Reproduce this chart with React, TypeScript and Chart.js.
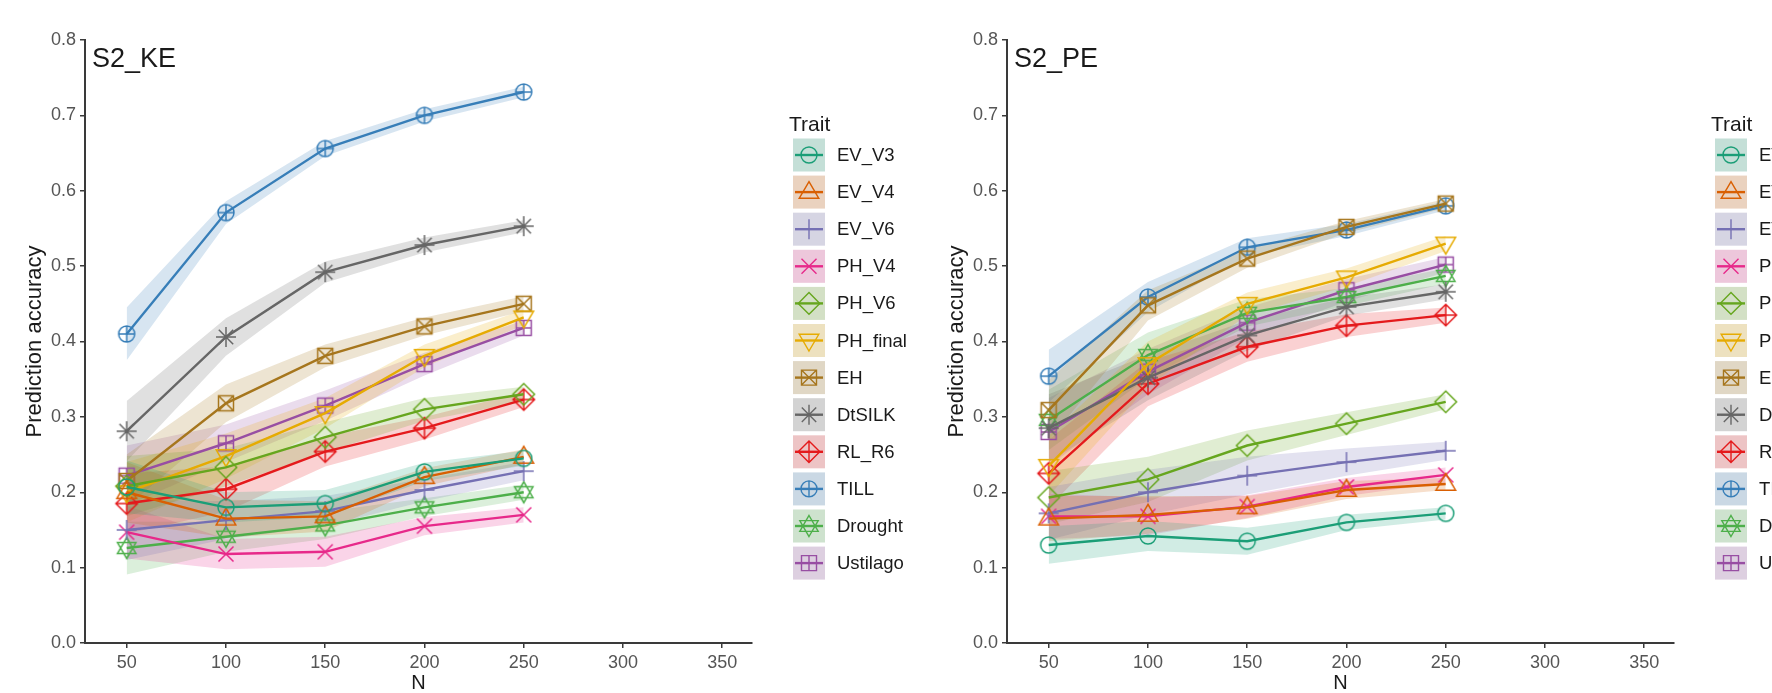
import React, { useEffect, useRef } from "react";
import { Chart, registerables } from "chart.js";

Chart.register(...registerables);

const FONT = '"Liberation Sans", Arial, Helvetica, sans-serif';
Chart.defaults.font.family = FONT;

// ---------- data ----------
const N_VALUES = [50, 100, 150, 200, 250];
const X_TICKS = [50, 100, 150, 200, 250, 300, 350];
const Y_TICKS = [0, 0.1, 0.2, 0.3, 0.4, 0.5, 0.6, 0.7, 0.8];
const TRAITS = ["EV_V3", "EV_V4", "EV_V6", "PH_V4", "PH_V6", "PH_final", "EH", "DtSILK", "RL_R6", "TILL", "Drought", "Ustilago"];
const COLORS = ["#1B9E77", "#D95F02", "#7570B3", "#E7298A", "#66A61E", "#E6AB02", "#A6761D", "#666666", "#E41A1C", "#377EB8", "#4DAF4A", "#984EA3"];
const SHAPES = ["circle", "triangle", "plus", "cross", "diamond", "triangleDown", "squareCross", "asterisk", "diamondPlus", "circlePlus", "starDavid", "squarePlus"];
const PANEL_TITLES = ["S2_KE", "S2_PE"];
const LEGEND_TITLE = "Trait";
const X_TITLE = "N";
const Y_TITLE = "Prediction accuracy";

// S2_KE mean accuracy
const KE_EV_V3 = [0.207, 0.180, 0.185, 0.227, 0.245];
const KE_EV_V4 = [0.200, 0.165, 0.168, 0.220, 0.247];
const KE_EV_V6 = [0.150, 0.163, 0.175, 0.203, 0.228];
const KE_PH_V4 = [0.147, 0.118, 0.121, 0.155, 0.170];
const KE_PH_V6 = [0.208, 0.233, 0.273, 0.310, 0.330];
const KE_PH_FINAL = [0.200, 0.248, 0.305, 0.381, 0.432];
const KE_EH = [0.215, 0.318, 0.381, 0.420, 0.450];
const KE_DTSILK = [0.281, 0.406, 0.492, 0.528, 0.553];
const KE_RL_R6 = [0.185, 0.204, 0.254, 0.285, 0.323];
const KE_TILL = [0.410, 0.571, 0.656, 0.700, 0.731];
const KE_DROUGHT = [0.126, 0.141, 0.156, 0.180, 0.200];
const KE_USTILAGO = [0.222, 0.265, 0.315, 0.370, 0.418];

// S2_KE ribbon half widths
const KE_HW_EV_V3 = [0.035, 0.02, 0.018, 0.012, 0.01];
const KE_HW_EV_V4 = [0.04, 0.025, 0.02, 0.012, 0.01];
const KE_HW_EV_V6 = [0.04, 0.025, 0.02, 0.015, 0.012];
const KE_HW_PH_V4 = [0.035, 0.02, 0.02, 0.012, 0.01];
const KE_HW_PH_V6 = [0.04, 0.025, 0.02, 0.015, 0.01];
const KE_HW_PH_FINAL = [0.04, 0.03, 0.02, 0.015, 0.01];
const KE_HW_EH = [0.035, 0.025, 0.015, 0.012, 0.01];
const KE_HW_DTSILK = [0.04, 0.025, 0.014, 0.01, 0.008];
const KE_HW_RL_R6 = [0.04, 0.03, 0.02, 0.015, 0.01];
const KE_HW_TILL = [0.035, 0.015, 0.01, 0.008, 0.007];
const KE_HW_DROUGHT = [0.035, 0.02, 0.018, 0.012, 0.01];
const KE_HW_USTILAGO = [0.04, 0.025, 0.02, 0.015, 0.01];

// S2_PE mean accuracy
const PE_EV_V3 = [0.130, 0.142, 0.135, 0.160, 0.172];
const PE_EV_V4 = [0.165, 0.170, 0.180, 0.203, 0.211];
const PE_EV_V6 = [0.172, 0.200, 0.222, 0.240, 0.255];
const PE_PH_V4 = [0.168, 0.168, 0.181, 0.207, 0.223];
const PE_PH_V6 = [0.193, 0.217, 0.262, 0.291, 0.320];
const PE_PH_FINAL = [0.235, 0.370, 0.450, 0.485, 0.530];
const PE_EH = [0.309, 0.448, 0.510, 0.552, 0.583];
const PE_DTSILK = [0.285, 0.352, 0.408, 0.446, 0.466];
const PE_RL_R6 = [0.225, 0.344, 0.393, 0.421, 0.435];
const PE_TILL = [0.354, 0.459, 0.525, 0.548, 0.580];
const PE_DROUGHT = [0.296, 0.382, 0.438, 0.459, 0.487];
const PE_USTILAGO = [0.280, 0.360, 0.425, 0.468, 0.502];

// S2_PE ribbon half widths
const PE_HW_EV_V3 = [0.025, 0.02, 0.018, 0.01, 0.008];
const PE_HW_EV_V4 = [0.03, 0.025, 0.015, 0.012, 0.008];
const PE_HW_EV_V6 = [0.035, 0.03, 0.025, 0.018, 0.012];
const PE_HW_PH_V4 = [0.03, 0.025, 0.015, 0.012, 0.01];
const PE_HW_PH_V6 = [0.035, 0.03, 0.02, 0.015, 0.01];
const PE_HW_PH_FINAL = [0.04, 0.03, 0.015, 0.012, 0.01];
const PE_HW_EH = [0.04, 0.02, 0.012, 0.008, 0.006];
const PE_HW_DTSILK = [0.045, 0.03, 0.02, 0.012, 0.01];
const PE_HW_RL_R6 = [0.045, 0.03, 0.02, 0.015, 0.01];
const PE_HW_TILL = [0.035, 0.02, 0.012, 0.008, 0.006];
const PE_HW_DROUGHT = [0.04, 0.03, 0.018, 0.012, 0.01];
const PE_HW_USTILAGO = [0.045, 0.03, 0.02, 0.015, 0.01];

const KE_MEANS = [KE_EV_V3, KE_EV_V4, KE_EV_V6, KE_PH_V4, KE_PH_V6, KE_PH_FINAL, KE_EH, KE_DTSILK, KE_RL_R6, KE_TILL, KE_DROUGHT, KE_USTILAGO];
const KE_HALF = [KE_HW_EV_V3, KE_HW_EV_V4, KE_HW_EV_V6, KE_HW_PH_V4, KE_HW_PH_V6, KE_HW_PH_FINAL, KE_HW_EH, KE_HW_DTSILK, KE_HW_RL_R6, KE_HW_TILL, KE_HW_DROUGHT, KE_HW_USTILAGO];
const PE_MEANS = [PE_EV_V3, PE_EV_V4, PE_EV_V6, PE_PH_V4, PE_PH_V6, PE_PH_FINAL, PE_EH, PE_DTSILK, PE_RL_R6, PE_TILL, PE_DROUGHT, PE_USTILAGO];
const PE_HALF = [PE_HW_EV_V3, PE_HW_EV_V4, PE_HW_EV_V6, PE_HW_PH_V4, PE_HW_PH_V6, PE_HW_PH_FINAL, PE_HW_EH, PE_HW_DTSILK, PE_HW_RL_R6, PE_HW_TILL, PE_HW_DROUGHT, PE_HW_USTILAGO];

// ---------- drawing helpers ----------
function rgba(hex: string, a: number) {
  const n = parseInt(hex.slice(1), 16);
  return `rgba(${(n >> 16) & 255},${(n >> 8) & 255},${n & 255},${a})`;
}

function drawShape(ctx: CanvasRenderingContext2D, shape: string, cx: number, cy: number, color: string, lw: number) {
  ctx.save();
  ctx.strokeStyle = color;
  ctx.lineWidth = lw;
  ctx.lineJoin = "miter";
  ctx.beginPath();
  const tri = (up: boolean, top: number, base: number, hw: number) => {
    const s = up ? 1 : -1;
    ctx.moveTo(cx, cy - s * top);
    ctx.lineTo(cx + hw, cy + s * base);
    ctx.lineTo(cx - hw, cy + s * base);
    ctx.closePath();
  };
  const plus = (h: number) => {
    ctx.moveTo(cx - h, cy); ctx.lineTo(cx + h, cy);
    ctx.moveTo(cx, cy - h); ctx.lineTo(cx, cy + h);
  };
  const cross = (h: number) => {
    ctx.moveTo(cx - h, cy - h); ctx.lineTo(cx + h, cy + h);
    ctx.moveTo(cx - h, cy + h); ctx.lineTo(cx + h, cy - h);
  };
  const diamond = (h: number) => {
    ctx.moveTo(cx, cy - h); ctx.lineTo(cx + h, cy); ctx.lineTo(cx, cy + h); ctx.lineTo(cx - h, cy); ctx.closePath();
  };
  switch (shape) {
    case "circle": ctx.arc(cx, cy, 8, 0, Math.PI * 2); break;
    case "triangle": tri(true, 10.5, 6.2, 9.8); break;
    case "triangleDown": tri(false, 10.5, 6.2, 9.8); break;
    case "plus": plus(10); break;
    case "cross": cross(7.5); break;
    case "diamond": diamond(10.8); break;
    case "squareCross": ctx.rect(cx - 7.5, cy - 7.5, 15, 15); cross(7.5); break;
    case "asterisk": plus(10); cross(7.2); break;
    case "diamondPlus": diamond(10.8); plus(10.8); break;
    case "circlePlus": ctx.arc(cx, cy, 8, 0, Math.PI * 2); ctx.moveTo(cx - 8, cy); ctx.lineTo(cx + 8, cy); ctx.moveTo(cx, cy - 8); ctx.lineTo(cx, cy + 8); break;
    case "starDavid": tri(true, 10.5, 5.4, 9.2); tri(false, 10.5, 5.4, 9.2); break;
    case "squarePlus": ctx.rect(cx - 7.5, cy - 7.5, 15, 15); plus(7.5); break;
  }
  ctx.stroke();
  ctx.restore();
}

function makePointCanvas(shape: string, color: string) {
  const c = document.createElement("canvas");
  c.width = 30;
  c.height = 30;
  const ctx = c.getContext("2d")!;
  drawShape(ctx, shape, 15, 15, color, 1.5);
  return c;
}

// ---------- layout ----------
const CANVAS_W = 922;
const CANVAS_H = 693;
const AREA_LEFT = 85;
const AREA_RIGHT = 752;
const AREA_TOP = 40;
const AREA_BOTTOM = 643;

const panelTitlePlugin = (title: string) => ({
  id: "panelTitle",
  afterDraw(chart: any) {
    const ctx = chart.ctx;
    ctx.save();
    ctx.fillStyle = "#1a1a1a";
    ctx.font = `27px ${FONT}`;
    ctx.textBaseline = "alphabetic";
    ctx.textAlign = "left";
    ctx.fillText(title, chart.chartArea.left + 7, 67);
    ctx.restore();
  },
});

const traitLegendPlugin = {
  id: "traitLegend",
  afterDraw(chart: any) {
    const ctx = chart.ctx;
    const sets = chart.data.datasets.filter((d: any) => d.isTrait);
    const kx = chart.chartArea.right + 41;
    const kw = 32;
    const kh = 33;
    ctx.save();
    ctx.fillStyle = "#1a1a1a";
    ctx.font = `21px ${FONT}`;
    ctx.textBaseline = "middle";
    ctx.textAlign = "left";
    ctx.fillText(LEGEND_TITLE, kx - 4, 125);
    sets.forEach((d: any, i: number) => {
      const y = 155 + i * 37.1;
      ctx.fillStyle = "#efefef";
      ctx.fillRect(kx, y - kh / 2, kw, kh);
      ctx.fillStyle = rgba(d.baseColor, 0.2);
      ctx.fillRect(kx, y - kh / 2, kw, kh);
      ctx.strokeStyle = d.baseColor;
      ctx.lineWidth = 2.4;
      ctx.beginPath();
      ctx.moveTo(kx + 2, y);
      ctx.lineTo(kx + kw - 2, y);
      ctx.stroke();
      drawShape(ctx, d.shape, kx + kw / 2, y, d.baseColor, 1.4);
      ctx.fillStyle = "#1a1a1a";
      ctx.font = `18.5px ${FONT}`;
      ctx.fillText(d.label, kx + kw + 12, y + 1);
    });
    ctx.restore();
  },
};

function Panel({ title, means, halves, left }: { title: string; means: number[][]; halves: number[][]; left: number }) {
  const ref = useRef<HTMLCanvasElement>(null);
  useEffect(() => {
    const canvas = ref.current!;
    const ribbons: any[] = [];
    TRAITS.forEach((t, i) => {
      ribbons.push({
        label: t + " upper",
        data: N_VALUES.map((x, j) => ({ x, y: means[i][j] + halves[i][j] })),
        fill: "+1",
        backgroundColor: rgba(COLORS[i], 0.2),
        borderColor: "transparent",
        borderWidth: 0,
        pointRadius: 0,
        pointHoverRadius: 0,
        order: 10,
      });
      ribbons.push({
        label: t + " lower",
        data: N_VALUES.map((x, j) => ({ x, y: means[i][j] - halves[i][j] })),
        fill: false,
        borderColor: "transparent",
        borderWidth: 0,
        pointRadius: 0,
        pointHoverRadius: 0,
        order: 10,
      });
    });
    const lines = TRAITS.map((t, i) => ({
      label: t,
      isTrait: true,
      baseColor: COLORS[i],
      shape: SHAPES[i],
      data: N_VALUES.map((x, j) => ({ x, y: means[i][j] })),
      borderColor: COLORS[i],
      borderWidth: 2.4,
      fill: false,
      pointStyle: makePointCanvas(SHAPES[i], COLORS[i]),
      pointRadius: 10,
      pointHoverRadius: 10,
      order: 1,
    }));
    const axisColor = "#3a3a3a";
    const chart = new Chart(canvas, {
      type: "line",
      data: { datasets: [...ribbons, ...lines] as any },
      options: {
        animation: false,
        responsive: false,
        events: [],
        layout: { padding: { left: 0, top: AREA_TOP, right: CANVAS_W - AREA_RIGHT, bottom: 0 } },
        plugins: { legend: { display: false }, tooltip: { enabled: false }, title: { display: false } },
        scales: {
          x: {
            type: "linear",
            min: 29,
            max: 365,
            afterBuildTicks: (s: any) => { s.ticks = X_TICKS.map((v) => ({ value: v })); },
            afterFit: (s: any) => { s.height = CANVAS_H - AREA_BOTTOM; },
            ticks: { font: { size: 18 }, color: "#555555", padding: 4, autoSkip: false, maxRotation: 0, callback: (v: any) => String(v) },
            grid: { display: true, drawOnChartArea: false, drawTicks: true, tickLength: 5, color: axisColor, lineWidth: 1.5 },
            border: { display: true, color: axisColor, width: 2 },
            title: { display: true, text: X_TITLE, font: { size: 20 }, color: "#1a1a1a", padding: { top: 0, bottom: -2 } },
          },
          y: {
            type: "linear",
            min: 0,
            max: 0.8,
            afterBuildTicks: (s: any) => { s.ticks = Y_TICKS.map((v) => ({ value: v })); },
            afterFit: (s: any) => { s.width = AREA_LEFT; },
            ticks: { font: { size: 18 }, color: "#555555", padding: 4, callback: (v: any) => Number(v).toFixed(1) },
            grid: { display: true, drawOnChartArea: false, drawTicks: true, tickLength: 5, color: axisColor, lineWidth: 1.5 },
            border: { display: true, color: axisColor, width: 2 },
            title: { display: true, text: Y_TITLE, font: { size: 22 }, color: "#1a1a1a", padding: { top: 22, bottom: 0 } },
          },
        },
      } as any,
      plugins: [panelTitlePlugin(title), traitLegendPlugin],
    });
    return () => chart.destroy();
  }, [title, means, halves]);
  return (
    <canvas
      ref={ref}
      width={CANVAS_W}
      height={CANVAS_H}
      style={{ position: "absolute", left, top: 0, width: CANVAS_W, height: CANVAS_H }}
    />
  );
}

export default function App() {
  return (
    <div style={{ position: "fixed", left: 0, top: 0, width: 1772, height: 693, overflow: "hidden", background: "#ffffff" }}>
      <Panel title={PANEL_TITLES[0]} means={KE_MEANS} halves={KE_HALF} left={0} />
      <Panel title={PANEL_TITLES[1]} means={PE_MEANS} halves={PE_HALF} left={922} />
    </div>
  );
}
